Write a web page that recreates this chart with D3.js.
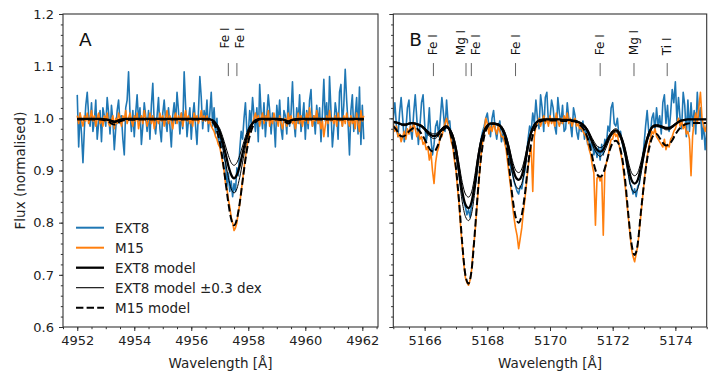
<!DOCTYPE html>
<html><head><meta charset="utf-8">
<script src="https://cdn.jsdelivr.net/npm/d3@7"></script>
<style>body{margin:0;background:#fff} svg{font-family:"DejaVu Sans",sans-serif}</style>
</head><body><svg id="c" width="720" height="377"></svg>
<script>
// ---------------- data ----------------
// Panel A observed spectra: uniform grid from 4952.00 Å, step 0.05 Å
const aWaveStart = 4952.0, aWaveStep = 0.05;
const aEXT8 = [
1.045,0.945,1.01,0.97,0.915,0.98,1.025,1.05,1.005,0.985,
1.03,0.975,0.995,1.035,0.96,0.99,1.015,0.955,1.02,1.005,
0.985,1.04,1.01,0.97,1.025,0.995,0.94,0.98,1.015,1.035,
0.99,1.005,0.96,0.93,1.02,1.035,1.089,1.01,0.975,1.015,
0.965,1.01,1.045,0.995,1.02,0.95,0.985,1.03,1.005,0.975,
1.015,0.96,1.025,1.067,0.99,0.97,1.005,1.04,0.98,0.955,
1.01,1.035,0.995,0.975,1.02,0.985,0.945,1.005,1.03,0.99,
1.05,1.015,0.97,1.01,0.98,1.089,1.025,0.965,0.995,1.02,
0.96,1.005,1.03,0.985,0.95,1.01,1.08,1.04,0.98,1.015,
0.995,1.035,0.975,1.01,1.05,0.985,1.02,0.97,1.0,0.955,
0.975,0.945,0.96,0.925,0.915,0.87,0.895,0.86,0.88,0.85,
0.875,0.86,0.905,0.89,0.94,0.975,0.96,1.0,1.03,0.975,
0.97,1.015,0.99,1.04,1.005,0.975,1.02,0.955,1.065,1.01,
0.98,1.03,0.965,1.005,1.045,1.015,0.97,1.01,0.995,0.945,
1.025,0.99,1.035,0.98,0.96,1.015,1.005,0.97,1.04,0.985,
1.01,1.07,0.995,0.965,1.02,0.99,1.045,0.975,1.0,1.03,
0.96,1.015,0.98,1.035,1.055,0.985,1.005,0.97,1.025,0.99,
1.02,0.955,1.01,1.075,0.995,1.03,0.965,1.08,1.015,0.945,
0.98,1.03,1.01,0.96,1.05,1.065,0.985,1.025,1.094,1.035,
0.99,0.93,1.015,1.045,0.975,1.005,1.04,0.97,1.06,0.95,
1.025,0.96];
const aM15 = [
1.005,0.99,1.01,0.995,0.985,1.005,0.995,1.01,0.99,1.0,
1.015,0.995,1.005,0.985,1.0,1.01,0.99,1.0,0.985,1.005,
0.995,1.01,0.99,0.985,0.995,1.005,0.98,1.0,0.99,1.01,
1.0,0.985,1.005,0.995,1.015,0.99,1.0,1.01,0.995,0.985,
1.005,0.995,1.01,0.98,0.995,1.005,0.99,1.015,1.0,0.985,
0.995,1.01,0.99,1.005,0.98,0.995,1.0,0.99,1.01,0.995,
1.005,0.985,1.0,1.015,0.99,1.005,0.995,0.98,1.0,1.01,
0.99,1.005,0.995,1.01,0.985,1.0,1.015,0.995,1.005,0.99,
1.0,0.985,1.01,0.995,1.005,0.99,1.0,1.015,0.995,1.005,
0.995,1.005,0.99,0.995,0.985,0.98,0.975,0.965,0.96,0.95,
0.945,0.93,0.915,0.9,0.875,0.865,0.845,0.83,0.81,0.8,
0.785,0.79,0.8,0.82,0.835,0.86,0.88,0.905,0.925,0.945,
0.96,0.975,0.985,0.99,1.0,1.01,0.995,1.005,0.985,1.0,
1.01,0.99,1.005,0.995,1.015,0.985,1.0,0.99,1.01,0.995,
1.0,0.985,1.005,0.99,0.98,0.995,1.0,0.985,1.01,0.995,
1.005,0.99,1.0,0.98,0.995,1.01,0.99,1.005,0.985,1.0,
0.995,1.01,0.99,1.02,1.0,0.985,1.005,0.995,1.015,0.99,
1.0,0.98,0.995,0.965,0.985,1.005,0.99,1.015,0.995,1.0,
0.99,1.005,0.985,1.01,0.995,1.0,0.985,1.005,0.99,1.01,
0.995,0.985,1.005,0.99,1.0,0.98,1.01,0.99,0.975,1.015,
0.995,1.005];
// Panel A synthetic models
const aModelWave = [4952.0,4952.8,4953.0,4953.1,4953.2,4953.3,4953.4,4953.5,4953.7,4955.0,4956.4,4956.5,
4956.6,4956.7,4956.8,4956.9,4957.0,4957.1,4957.2,4957.3,4957.4,4957.5,4957.6,4957.7,4957.8,4957.9,4958.0,4958.1,4958.2,4958.3,4958.4,
4958.5,4958.6,4959.0,4959.2,4959.3,4959.4,4959.5,4959.6,4959.8,4961.0,4962.05];
const aModelEXT8 = [0.999,0.999,0.998,0.997,0.995,0.993,0.995,0.997,0.999,0.999,0.999,0.999,
0.999,0.997,0.994,0.986,0.974,0.956,0.933,0.909,0.892,0.885,0.892,0.909,0.933,0.956,0.974,0.986,0.994,0.997,0.999,
0.999,0.999,0.999,0.998,0.996,0.994,0.996,0.998,0.999,0.999,0.999];
const aModelLow = [0.999,0.999,0.998,0.997,0.996,0.995,0.996,0.998,0.999,0.999,0.999,0.999,
0.999,0.998,0.995,0.989,0.980,0.965,0.947,0.929,0.915,0.910,0.915,0.929,0.947,0.965,0.980,0.989,0.995,0.998,0.999,
0.999,0.999,0.999,0.998,0.997,0.995,0.997,0.998,0.999,0.999,0.999];
const aModelHigh = [0.999,0.999,0.997,0.996,0.994,0.992,0.994,0.996,0.999,0.999,0.999,0.999,
0.999,0.997,0.992,0.983,0.968,0.945,0.916,0.887,0.865,0.857,0.865,0.887,0.916,0.945,0.968,0.983,0.992,0.997,0.999,
0.999,0.999,0.999,0.997,0.995,0.993,0.995,0.997,0.999,0.999,0.999];
const aModelM15 = [0.998,0.998,0.996,0.994,0.990,0.988,0.990,0.994,0.997,0.998,0.998,0.998,
0.998,0.995,0.989,0.976,0.954,0.921,0.880,0.838,0.807,0.795,0.807,0.838,0.880,0.921,0.954,0.976,0.989,0.995,0.998,
0.998,0.998,0.998,0.996,0.993,0.990,0.993,0.996,0.998,0.998,0.998];

// Panel B observed spectra: uniform grid from 5165.00 Å, step 0.05 Å
const bWaveStart = 5165.0, bWaveStep = 0.05;
const bEXT8 = [
1.0,1.03,0.985,0.965,1.01,1.04,1.0,0.955,0.975,1.02,
1.035,0.98,0.96,1.01,1.045,1.0,0.95,0.985,1.03,1.045,
0.99,0.955,0.975,1.02,0.96,0.93,0.95,0.985,0.995,0.965,
1.0,1.04,1.01,0.975,1.035,0.99,0.995,0.96,0.955,0.93,
0.935,0.915,0.895,0.87,0.855,0.84,0.83,0.815,0.825,0.81,
0.835,0.85,0.87,0.885,0.915,0.935,0.96,0.975,0.985,1.0,
1.01,0.985,0.965,1.0,1.015,0.98,0.96,0.985,0.995,0.955,
0.97,0.955,0.945,0.93,0.92,0.905,0.895,0.88,0.87,0.86,
0.855,0.87,0.865,0.885,0.9,0.93,0.96,0.985,0.975,1.01,
0.99,1.035,1.0,0.98,1.045,1.02,0.975,1.04,1.05,0.99,
1.0,1.035,1.02,0.985,0.97,1.04,1.01,0.99,1.025,0.975,
0.98,1.03,1.0,0.99,0.965,1.02,1.005,0.975,0.96,0.99,
0.975,0.995,0.96,0.98,0.95,0.965,0.94,0.955,0.93,0.945,
0.925,0.945,0.92,0.95,0.93,0.96,0.95,0.985,0.975,1.02,
1.03,0.99,0.985,1.0,0.965,0.975,0.955,0.94,0.93,0.91,
0.895,0.875,0.87,0.855,0.865,0.85,0.87,0.875,0.9,0.915,
0.95,0.985,1.015,0.975,0.965,1.0,1.01,0.975,1.02,0.985,
1.005,0.97,1.03,1.045,0.99,1.025,0.975,1.01,1.055,1.03,
1.07,0.995,1.04,1.0,0.98,1.05,1.025,0.965,1.035,0.975,
1.03,0.985,1.015,0.97,1.05,1.0,1.02,0.96,0.99,0.94,0.975];
const bM15 = [
0.99,0.975,0.985,0.965,0.97,0.955,0.965,0.975,0.96,0.98,
0.97,0.985,0.975,0.99,0.98,0.965,0.975,0.96,0.965,0.95,
0.955,0.94,0.945,0.92,0.935,0.9,0.875,0.915,0.935,0.945,
0.97,0.965,0.98,0.99,1.0,0.985,0.975,0.955,0.945,0.92,
0.9,0.865,0.835,0.79,0.755,0.72,0.695,0.685,0.68,0.69,
0.71,0.75,0.775,0.815,0.855,0.895,0.93,0.955,0.975,1.0,
0.99,0.97,0.985,0.975,0.99,0.98,0.97,0.985,0.975,0.965,
0.965,0.955,0.94,0.915,0.89,0.865,0.835,0.81,0.79,0.775,
0.75,0.77,0.79,0.82,0.845,0.875,0.905,0.93,0.945,0.86,
0.965,0.985,0.99,1.0,0.985,0.995,1.005,0.99,1.0,0.985,
1.005,0.99,1.0,0.985,1.01,0.995,0.985,1.0,0.99,1.005,
0.995,1.01,0.99,1.0,0.985,0.995,1.0,0.985,0.99,0.98,
0.985,0.975,0.97,0.965,0.955,0.94,0.93,0.91,0.895,0.795,
0.885,0.89,0.88,0.89,0.776,0.9,0.915,0.925,0.945,0.96,
0.96,0.975,0.965,0.97,0.95,0.935,0.92,0.895,0.87,0.84,
0.81,0.78,0.75,0.735,0.725,0.74,0.755,0.785,0.815,0.845,
0.875,0.905,0.925,0.945,0.96,0.975,0.97,0.98,0.965,0.96,
0.955,0.95,0.945,0.96,0.94,0.95,0.945,0.96,0.965,0.975,
0.98,0.99,1.0,0.985,0.995,0.98,0.99,0.97,0.975,0.96,
0.89,0.965,0.995,1.01,0.99,1.02,1.05,1.0,0.985,0.975,0.99];
// Panel B synthetic models: grid from 5165.0 Å, step 0.1 Å
const bModelStart = 5165.0, bModelStep = 0.1;
const bModelEXT8 = [
0.993,0.992,0.990,0.988,0.988,0.990,0.991,0.990,0.988,0.985,
0.980,0.973,0.968,0.966,0.968,0.975,0.982,0.984,0.978,0.965,
0.940,0.900,0.860,0.835,0.828,0.840,0.875,0.920,0.955,0.975,
0.986,0.990,0.990,0.989,0.986,0.978,0.962,0.938,0.908,0.888,
0.882,0.890,0.915,0.948,0.973,0.987,0.994,0.997,0.998,0.998,
0.998,0.998,0.998,0.998,0.997,0.997,0.997,0.996,0.995,0.993,
0.990,0.985,0.976,0.963,0.950,0.940,0.936,0.940,0.952,0.965,
0.974,0.977,0.972,0.958,0.935,0.905,0.882,0.875,0.882,0.905,
0.935,0.960,0.977,0.985,0.986,0.985,0.983,0.981,0.981,0.984,
0.989,0.993,0.996,0.997,0.998,0.998,0.998,0.998,0.998,0.998,0.998];
const bModelLow = [
0.994,0.993,0.991,0.989,0.989,0.991,0.992,0.991,0.989,0.987,
0.982,0.976,0.972,0.970,0.972,0.978,0.984,0.986,0.981,0.969,
0.947,0.912,0.877,0.855,0.849,0.859,0.890,0.930,0.960,0.978,
0.988,0.991,0.991,0.990,0.988,0.981,0.967,0.945,0.919,0.901,
0.896,0.903,0.925,0.954,0.976,0.989,0.995,0.997,0.998,0.998,
0.998,0.998,0.998,0.998,0.997,0.997,0.997,0.996,0.996,0.994,
0.991,0.987,0.979,0.967,0.956,0.947,0.944,0.947,0.958,0.969,
0.977,0.980,0.975,0.963,0.943,0.916,0.896,0.890,0.896,0.916,
0.943,0.965,0.980,0.987,0.988,0.987,0.985,0.983,0.983,0.986,
0.990,0.994,0.996,0.997,0.998,0.998,0.998,0.998,0.998,0.998,0.998];
const bModelHigh = [
0.992,0.991,0.989,0.986,0.986,0.989,0.990,0.989,0.986,0.983,
0.977,0.969,0.964,0.961,0.964,0.972,0.979,0.982,0.975,0.960,
0.932,0.886,0.840,0.812,0.804,0.818,0.858,0.909,0.949,0.972,
0.984,0.989,0.989,0.987,0.984,0.975,0.957,0.929,0.895,0.872,
0.865,0.875,0.903,0.941,0.969,0.985,0.993,0.997,0.998,0.998,
0.998,0.998,0.998,0.998,0.997,0.997,0.997,0.995,0.994,0.992,
0.989,0.983,0.973,0.958,0.943,0.932,0.927,0.932,0.945,0.960,
0.970,0.974,0.968,0.952,0.926,0.892,0.865,0.858,0.865,0.892,
0.926,0.954,0.974,0.983,0.984,0.983,0.981,0.978,0.978,0.982,
0.987,0.992,0.995,0.997,0.998,0.998,0.998,0.998,0.998,0.998,0.998];
const bModelM15 = [
0.985,0.978,0.968,0.965,0.968,0.975,0.980,0.982,0.978,0.970,
0.960,0.948,0.938,0.936,0.945,0.962,0.977,0.983,0.975,0.950,
0.905,0.840,0.760,0.700,0.683,0.710,0.780,0.860,0.925,0.965,
0.983,0.989,0.990,0.989,0.985,0.975,0.952,0.905,0.850,0.812,
0.800,0.815,0.855,0.910,0.953,0.978,0.989,0.994,0.996,0.996,
0.996,0.996,0.996,0.996,0.995,0.995,0.995,0.995,0.994,0.991,
0.985,0.977,0.962,0.940,0.912,0.893,0.888,0.895,0.915,0.938,
0.953,0.957,0.950,0.925,0.880,0.815,0.760,0.738,0.760,0.820,
0.875,0.922,0.952,0.967,0.970,0.962,0.953,0.948,0.950,0.958,
0.969,0.978,0.984,0.988,0.990,0.991,0.991,0.991,0.991,0.991,0.991];

// line identifications
const aLineWave = [4957.30, 4957.60];
const aLineName = ["Fe I", "Fe I"];
const bLineWave = [5166.28, 5167.32, 5167.49, 5168.90, 5171.60, 5172.68, 5173.74];
const bLineName = ["Fe I", "Mg I", "Fe I", "Fe I", "Fe I", "Mg I", "Ti I"];

// axes ticks
const yTicks = [0.6, 0.7, 0.8, 0.9, 1.0, 1.1, 1.2];
const aXTicks = [4952, 4954, 4956, 4958, 4960, 4962];
const bXTicks = [5166, 5168, 5170, 5172, 5174];
const legendLabels = ["EXT8", "M15", "EXT8 model", "EXT8 model \u00b10.3 dex", "M15 model"];

// ---------------- drawing ----------------
const svg = d3.select("#c");
const yTop = 14, yBottom = 327;
const y = d3.scaleLinear().domain([0.6, 1.2]).range([yBottom, yTop]);
const C_BLUE = "#1f77b4", C_ORANGE = "#ff7f0e";

function grid(start, step, n) { return d3.range(n).map(i => +(start + step * i).toFixed(3)); }

function panel(opts) {
  const x = d3.scaleLinear().domain(opts.xdom).range(opts.xr);
  const g = svg.append("g");
  const clipId = "clip" + opts.name;
  svg.append("clipPath").attr("id", clipId).append("rect")
    .attr("x", opts.xr[0]).attr("y", yTop).attr("width", opts.xr[1] - opts.xr[0]).attr("height", yBottom - yTop);
  const plot = g.append("g").attr("clip-path", `url(#${clipId})`);
  const lineLin = d3.line().x(d => x(d[0])).y(d => y(d[1]));
  const lineSm = d3.line().x(d => x(d[0])).y(d => y(d[1])).curve(d3.curveMonotoneX);
  const series = [
    {w: opts.obsW, v: opts.ext8, c: C_BLUE, lw: 1.6, gen: lineLin},
    {w: opts.obsW, v: opts.m15, c: C_ORANGE, lw: 1.6, gen: lineLin},
    {w: opts.modW, v: opts.mExt, c: "#000", lw: 2.3, gen: lineSm},
    {w: opts.modW, v: opts.mLow, c: "#000", lw: 1.0, gen: lineSm},
    {w: opts.modW, v: opts.mHigh, c: "#000", lw: 1.0, gen: lineSm},
    {w: opts.modW, v: opts.mM15, c: "#000", lw: 2.0, gen: lineSm, dash: "7.4,3.2"}
  ];
  series.forEach(s => {
    plot.append("path").attr("d", s.gen(s.w.map((w, i) => [w, s.v[i]])))
      .attr("fill", "none").attr("stroke", s.c).attr("stroke-width", s.lw)
      .attr("stroke-linejoin", "round").attr("stroke-dasharray", s.dash || null);
  });

  // axes
  const minorX = d3.range(Math.ceil(opts.xdom[0] * 2) / 2, opts.xdom[1] + 1e-9, 0.5).map(v => +v.toFixed(2));
  const minorY = d3.range(0.6, 1.2001, 0.02).map(v => +v.toFixed(2));
  const ax = g.append("g").attr("transform", `translate(0,${yBottom})`)
    .call(d3.axisBottom(x).tickValues(minorX).tickSize(2.2).tickFormat(""));
  const ax2 = g.append("g").attr("transform", `translate(0,${yBottom})`)
    .call(d3.axisBottom(x).tickValues(opts.xticks).tickSize(4).tickPadding(4).tickFormat(d3.format("d")));
  const ay = g.append("g").attr("transform", `translate(${opts.xr[0]},0)`)
    .call(d3.axisLeft(y).tickValues(minorY).tickSize(2.2).tickFormat(""));
  const ay2 = g.append("g").attr("transform", `translate(${opts.xr[0]},0)`)
    .call(d3.axisLeft(y).tickValues(yTicks).tickSize(4).tickPadding(5).tickFormat(opts.ylabels ? d3.format(".1f") : ""));
  [ax, ax2, ay, ay2].forEach(a => {
    a.select(".domain").remove();
    a.selectAll("line").attr("stroke", "#333").attr("stroke-width", 1);
    a.selectAll("text").attr("font-size", 13).attr("fill", "#222").attr("font-family", "DejaVu Sans");
  });
  ax2.selectAll("text").attr("dy", "0.74em");
  // frame
  g.append("rect").attr("x", opts.xr[0]).attr("y", yTop).attr("width", opts.xr[1] - opts.xr[0]).attr("height", yBottom - yTop)
    .attr("fill", "none").attr("stroke", "#333").attr("stroke-width", 1.1);
  // x label
  g.append("text").attr("x", (opts.xr[0] + opts.xr[1]) / 2).attr("y", 368).attr("text-anchor", "middle")
    .attr("font-size", 13.5).attr("fill", "#222").text("Wavelength [\u00c5]");
  // panel letter
  g.append("text").attr("x", opts.xr[0] + 16).attr("y", 45.5).attr("font-size", 18.5).attr("fill", "#111").text(opts.letter);

  // line identifications
  const px = opts.lineW.map(w => x(w));
  const tx = px.slice();
  const gap = 15.5;
  for (let i = 0; i < tx.length - 1; i++) {
    if (tx[i + 1] - tx[i] < gap) {
      const m = (px[i] + px[i + 1]) / 2;
      tx[i] = m - gap / 2; tx[i + 1] = m + gap / 2;
    }
  }
  opts.lineW.forEach((w, i) => {
    g.append("line").attr("x1", px[i]).attr("x2", px[i]).attr("y1", y(1.106)).attr("y2", y(1.081))
      .attr("stroke", "#666").attr("stroke-width", 1);
    g.append("text").attr("transform", `translate(${tx[i]},${y(opts.labelY)}) rotate(-90)`)
      .attr("text-anchor", "start").attr("dominant-baseline", "central")
      .attr("font-size", 12).attr("fill", "#111").text(opts.lineN[i]);
  });
  return g;
}

panel({name: "A", letter: "A", xdom: [4951.5, 4962.55], xr: [63, 378], xticks: aXTicks, ylabels: true,
  obsW: grid(aWaveStart, aWaveStep, aEXT8.length), ext8: aEXT8, m15: aM15,
  modW: aModelWave, mExt: aModelEXT8, mLow: aModelLow, mHigh: aModelHigh, mM15: aModelM15,
  lineW: aLineWave, lineN: aLineName, labelY: 1.134});
panel({name: "B", letter: "B", xdom: [5165, 5175], xr: [393.3, 706.7], xticks: bXTicks, ylabels: false,
  obsW: grid(bWaveStart, bWaveStep, bEXT8.length), ext8: bEXT8, m15: bM15,
  modW: grid(bModelStart, bModelStep, bModelEXT8.length), mExt: bModelEXT8, mLow: bModelLow, mHigh: bModelHigh, mM15: bModelM15,
  lineW: bLineWave, lineN: bLineName, labelY: 1.121});

// y label
svg.append("text").attr("transform", "translate(25,170.5) rotate(-90)").attr("text-anchor", "middle")
  .attr("font-size", 13.5).attr("fill", "#222").text("Flux (normalised)");

// legend
const legStyles = [
  {c: C_BLUE, lw: 2}, {c: C_ORANGE, lw: 2}, {c: "#000", lw: 2.3}, {c: "#000", lw: 1.1}, {c: "#000", lw: 2, dash: "7.4,3.2"}
];
const leg = svg.append("g");
legendLabels.forEach((t, i) => {
  const yy = 227.7 + i * 20;
  leg.append("line").attr("x1", 76).attr("x2", 104).attr("y1", yy).attr("y2", yy)
    .attr("stroke", legStyles[i].c).attr("stroke-width", legStyles[i].lw).attr("stroke-dasharray", legStyles[i].dash || null);
  leg.append("text").attr("x", 115).attr("y", yy).attr("dominant-baseline", "central")
    .attr("font-size", 13.5).attr("fill", "#222").text(t);
});
</script></body></html>
